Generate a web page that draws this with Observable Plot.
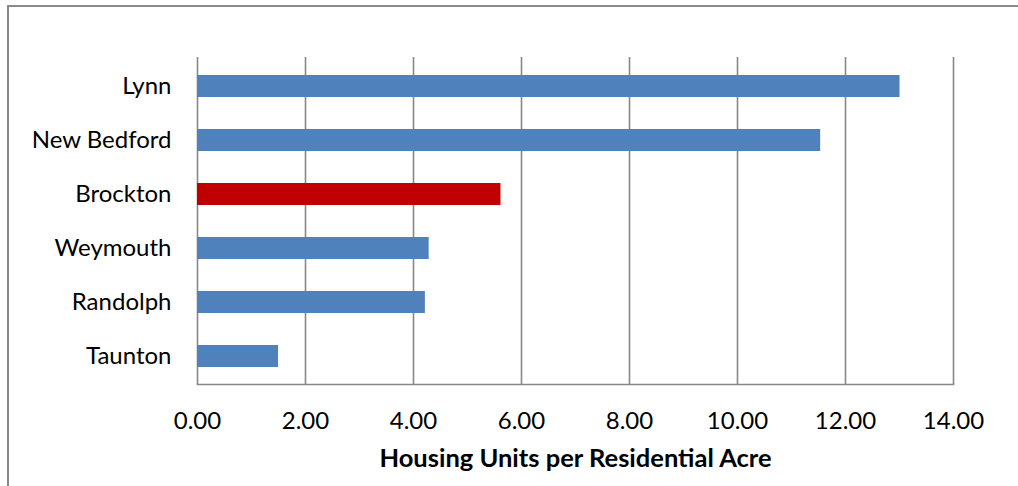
<!DOCTYPE html>
<html><head><meta charset="utf-8">
<script src="https://cdn.jsdelivr.net/npm/d3@7"></script>
<script src="https://cdn.jsdelivr.net/npm/@observablehq/plot@0.6"></script>
<style>
html,body{margin:0;padding:0;background:#fff;overflow:hidden;}
#wrap{position:relative;width:1018px;height:486px;overflow:hidden;}
#frame{position:absolute;left:7px;top:5px;width:1100px;height:600px;border-left:2px solid #8a8a8a;border-top:2px solid #8a8a8a;box-sizing:border-box;}
#chart{position:absolute;left:0;top:0;}
</style></head><body>
<div id="wrap"><div id="frame"></div><div id="chart"></div></div>
<script>
const cities = ["Lynn", "New Bedford", "Brockton", "Weymouth", "Randolph", "Taunton"];
const density = [13.01, 11.54, 5.62, 4.29, 4.22, 1.50];
const highlighted = ["Brockton"];
const xTicks = [0, 2, 4, 6, 8, 10, 12, 14];
const xTitle = "Housing Units per Residential Acre";

const data = cities.map((c, i) => ({city: c, value: density[i], hi: highlighted.includes(c)}));

const chart = Plot.plot({
  width: 1018,
  height: 486,
  marginLeft: 197,
  marginRight: 65,
  marginTop: 57,
  marginBottom: 102,
  style: {fontFamily: "Lato, sans-serif", fontSize: "24px", color: "#000", background: "transparent"},
  x: {domain: [0, 14], ticks: xTicks, tickFormat: d3.format(".2f"), label: null},
  y: {domain: cities, paddingInner: 0.6, paddingOuter: 0.3, label: null},
  marks: [
    Plot.ruleX(xTicks, {stroke: "#888", strokeWidth: 1.6}),
    Plot.frame({anchor: "bottom", stroke: "#888", strokeWidth: 1.6}),
    Plot.barX(data, {x: "value", y: "city", fill: d => d.hi ? "#C00000" : "#4F81BD"}),
    Plot.axisX({ticks: xTicks, tickFormat: d3.format(".2f"), tickSize: 0, tickPadding: 27, label: null, fontSize: 24}),
    Plot.axisY({tickSize: 0, tickPadding: 26, label: null, fontSize: 24}),
    Plot.text([xTitle], {frameAnchor: "bottom", dy: 74, fontWeight: "bold", fontSize: 25.5, lineAnchor: "middle", fill: "#000"})
  ]
});
document.getElementById("chart").appendChild(chart);
</script>
</body></html>
